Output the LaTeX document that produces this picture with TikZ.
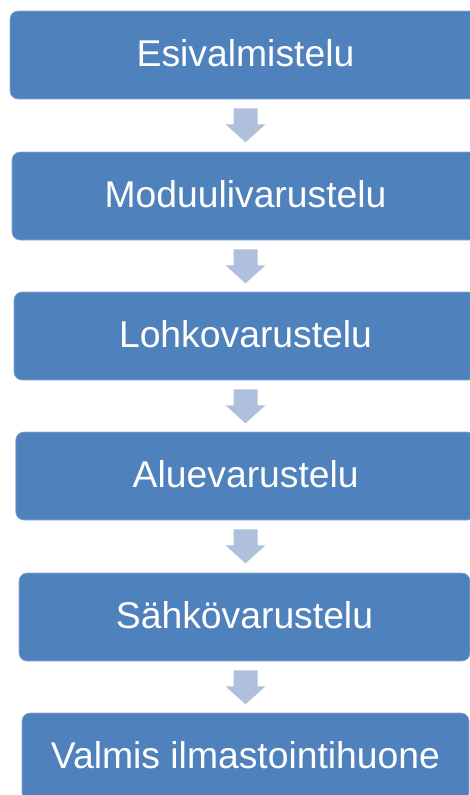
\documentclass[tikz,border=0pt]{standalone}
\usepackage{fontspec}
\setmainfont{Liberation Sans}
\usetikzlibrary{calc}
\definecolor{boxblue}{HTML}{4F81BD}
\definecolor{arrowblue}{HTML}{AEC0DC}
\tikzset{
  stepbox/.style={rectangle, rounded corners=8pt, fill=boxblue,
    draw=boxblue!65!white, line width=0.6pt, text=white,
    font=\fontsize{37.3}{41}\selectfont, inner sep=0pt,
    text height=22pt, text depth=0pt, minimum height=88pt},
  downarrow/.style={fill=arrowblue}
}
\begin{document}
\begin{tikzpicture}[x=1pt,y=-1pt]
\clip (0,0) rectangle (470,795);
\fill[white] (0,0) rectangle (470,795);
% boxes
\node[stepbox, minimum width=471pt] (b1) at (245.5,55) {Esivalmistelu};
\node[stepbox, minimum width=467pt] (b2) at (245.5,196) {Moduulivarustelu};
\node[stepbox, minimum width=463pt] (b3) at (245.5,336) {Lohkovarustelu};
\node[stepbox, minimum width=460pt] (b4) at (245.75,476) {Aluevarustelu};
\node[stepbox, minimum width=451pt] (b5) at (244.5,617) {Sähkövarustelu};
\node[stepbox, minimum width=447pt] (b6) at (245.5,757) {Valmis ilmastointihuone};
% block arrows between boxes
\foreach \a/\b in {b1/b2,b2/b3,b3/b4,b4/b5,b5/b6}{
  \coordinate (p) at (245.5,0 |- \a.south);
  \fill[downarrow] ($(p)+(-12,9)$) -- ($(p)+(12,9)$) -- ($(p)+(12,25)$)
    -- ($(p)+(20,25)$) -- ($(p)+(0,43)$) -- ($(p)+(-20,25)$)
    -- ($(p)+(-12,25)$) -- cycle;
}
\end{tikzpicture}
\end{document}
